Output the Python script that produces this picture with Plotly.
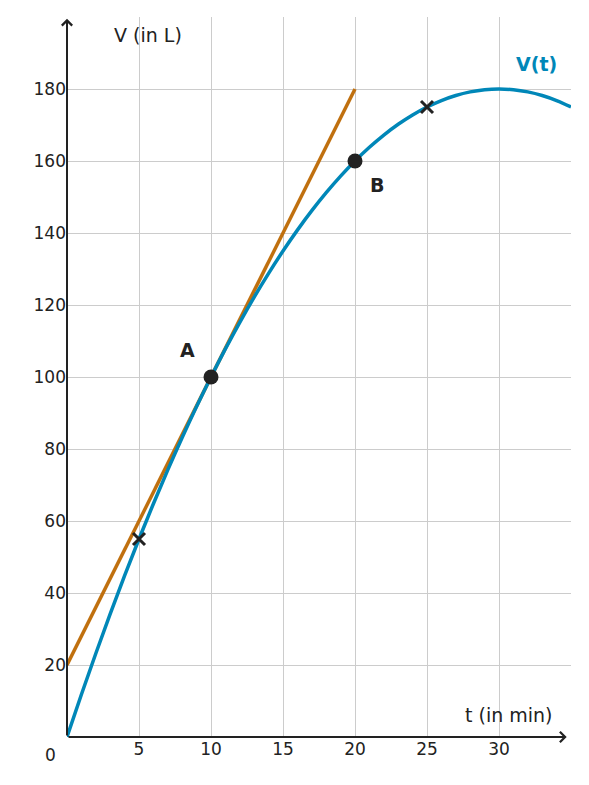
import plotly.graph_objects as go

# V(t), every minute 0..35
t_vals = list(range(0, 36))
v_vals = [0, 11.8, 23.2, 34.2, 44.8, 55, 64.8, 74.2, 83.2, 91.8, 100,
          107.8, 115.2, 122.2, 128.8, 135, 140.8, 146.2, 151.2, 155.8, 160,
          163.8, 167.2, 170.2, 172.8, 175, 176.8, 178.2, 179.2, 179.8, 180,
          179.8, 179.2, 178.2, 176.8, 175]
# tangent at A
tan_t = [0, 20]
tan_v = [20, 180]
points_t = [10, 20]
points_v = [100, 160]
cross_t = [5, 25]
cross_v = [55, 175]
x_ticks = [5, 10, 15, 20, 25, 30]
y_ticks = [20, 40, 60, 80, 100, 120, 140, 160, 180]

BLUE = "#0087b8"
ORANGE = "#c0700f"
DARK = "#222222"
FONT = "DejaVu Sans"

fig = go.Figure()
fig.add_trace(go.Scatter(x=tan_t, y=tan_v, mode="lines",
                         line=dict(color=ORANGE, width=3.5), showlegend=False))
fig.add_trace(go.Scatter(x=t_vals, y=v_vals, mode="lines", line_shape="spline",
                         line=dict(color=BLUE, width=3.5), showlegend=False))
fig.add_trace(go.Scatter(x=cross_t, y=cross_v, mode="markers",
                         marker=dict(symbol="x-thin", size=12, line=dict(color=DARK, width=3)),
                         showlegend=False))
fig.add_trace(go.Scatter(x=points_t, y=points_v, mode="markers",
                         marker=dict(size=15, color=DARK), showlegend=False))

fig.add_annotation(x=points_t[0], y=points_v[0], text="<b>A</b>", showarrow=False,
                   xshift=-24, yshift=27, font=dict(size=19, color=DARK, family=FONT))
fig.add_annotation(x=points_t[1], y=points_v[1], text="<b>B</b>", showarrow=False,
                   xshift=22, yshift=-24, font=dict(size=19, color=DARK, family=FONT))
fig.add_annotation(x=32.6, y=187, text="<b>V(t)</b>", showarrow=False,
                   font=dict(size=19, color=BLUE, family=FONT))
fig.add_annotation(x=5.6, y=195, text="V (in L)", showarrow=False,
                   font=dict(size=19, color=DARK, family=FONT))
fig.add_annotation(x=30.7, y=6, text="t (in min)", showarrow=False,
                   font=dict(size=19, color=DARK, family=FONT))
fig.add_annotation(x=0, y=0, text="0", showarrow=False, xshift=-17, yshift=-18,
                   font=dict(size=17, color=DARK, family=FONT))

# axes with arrows
fig.add_annotation(x=34.7, y=0, ax=0, ay=0, axref="x", ayref="y", xref="x", yref="y",
                   text="", showarrow=True, arrowhead=4, arrowsize=1, arrowwidth=2, arrowcolor=DARK)
fig.add_annotation(x=0, y=199.5, ax=0, ay=0, axref="x", ayref="y", xref="x", yref="y",
                   text="", showarrow=True, arrowhead=4, arrowsize=1, arrowwidth=2, arrowcolor=DARK)

fig.update_xaxes(range=[0, 35], tickvals=x_ticks, showgrid=True, gridcolor="#cccccc",
                 gridwidth=1.3, zeroline=False, showline=False, ticks="",
                 tickfont=dict(size=17, color=DARK, family=FONT))
fig.update_yaxes(range=[0, 200], tickvals=y_ticks, showgrid=True, gridcolor="#cccccc",
                 gridwidth=1.3, zeroline=False, showline=False, ticks="",
                 tickfont=dict(size=17, color=DARK, family=FONT))
# page body adds an 8px offset, so the figure is shrunk to fit the window
fig.update_layout(width=573, height=769, margin=dict(l=59, r=10, t=9, b=40),
                  plot_bgcolor="white", paper_bgcolor="white")
fig.write_html("out.html")
